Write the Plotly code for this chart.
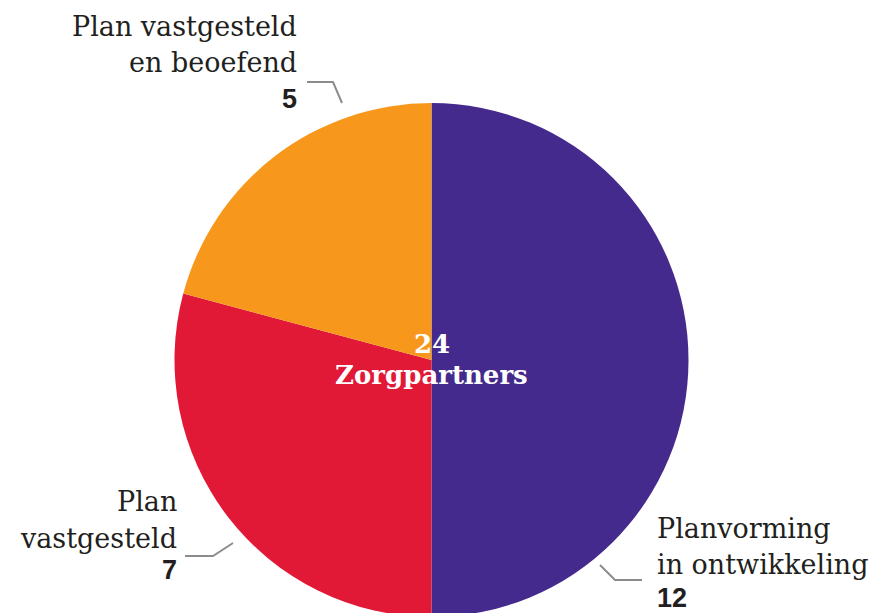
import plotly.graph_objects as go

# ---- data ----
categories = ["Planvorming in ontwikkeling", "Plan vastgesteld", "Plan vastgesteld en beoefend"]
values = [12, 7, 5]
label_lines = [["Planvorming", "in ontwikkeling"], ["Plan", "vastgesteld"], ["Plan vastgesteld", "en beoefend"]]
colors = ["#432A8C", "#E21837", "#F7981D"]
total_label = "Zorgpartners"

W, H = 880, 613
OFF = 8  # page body margin in the browser
R = 257
CX, CY = 431.5, 360  # screen pixel center (from top-left of window)

def px(x):
    return (x - OFF) / W

def py(y):
    return 1 - (y - OFF) / H

fig = go.Figure(go.Pie(
    labels=categories,
    values=values,
    marker=dict(colors=colors, line=dict(width=0)),
    sort=False,
    direction="clockwise",
    rotation=0,
    textinfo="none",
    hoverinfo="label+value",
    domain=dict(x=[px(CX - R), px(CX + R)], y=[py(CY + R), py(CY - R)]),
    showlegend=False,
))

LABEL_FONT = dict(family="DejaVu Serif", size=27, color="#231F20")
NUM_FONT = dict(family="Liberation Sans", size=27, color="#231F20")

# label layout: (x, anchor, [line centers], number center) in screen pixels
label_layout = [
    (655, "left", [528, 564], 598),
    (179, "right", [502, 538], 570),
    (299, "right", [27, 63], 99),
]

annotations = []
for i, (x, anchor, ys, ny) in enumerate(label_layout):
    for line, y in zip(label_lines[i], ys):
        annotations.append(dict(x=px(x), y=py(y), xref="paper", yref="paper",
                                text=line, showarrow=False, xanchor=anchor, yanchor="middle",
                                font=LABEL_FONT))
    annotations.append(dict(x=px(x), y=py(ny), xref="paper", yref="paper",
                            text="<b>%d</b>" % values[i], showarrow=False, xanchor=anchor,
                            yanchor="middle", font=NUM_FONT))

# center text
annotations.append(dict(x=px(432), y=py(344), xref="paper", yref="paper",
                        text="<b>%d</b>" % sum(values), showarrow=False,
                        font=dict(family="DejaVu Serif", size=26, color="white")))
annotations.append(dict(x=px(431), y=py(375), xref="paper", yref="paper",
                        text="<b>%s</b>" % total_label, showarrow=False,
                        font=dict(family="DejaVu Serif", size=26, color="white")))

# leader lines (screen pixels)
leaders = [
    [(600, 565), (615, 580), (642, 580)],
    [(185, 556), (213, 556), (233, 543)],
    [(307, 82), (333, 82), (342, 103)],
]
shapes = []
for pts in leaders:
    path = "M " + " L ".join("%f,%f" % (px(a), py(b)) for a, b in pts)
    shapes.append(dict(type="path", path=path, xref="paper", yref="paper",
                       line=dict(color="#8C8C8C", width=2)))

fig.update_layout(
    width=W, height=H,
    margin=dict(l=0, r=0, t=0, b=0),
    paper_bgcolor="white",
    plot_bgcolor="white",
    annotations=annotations,
    shapes=shapes,
)

fig.write_html("out.html")
